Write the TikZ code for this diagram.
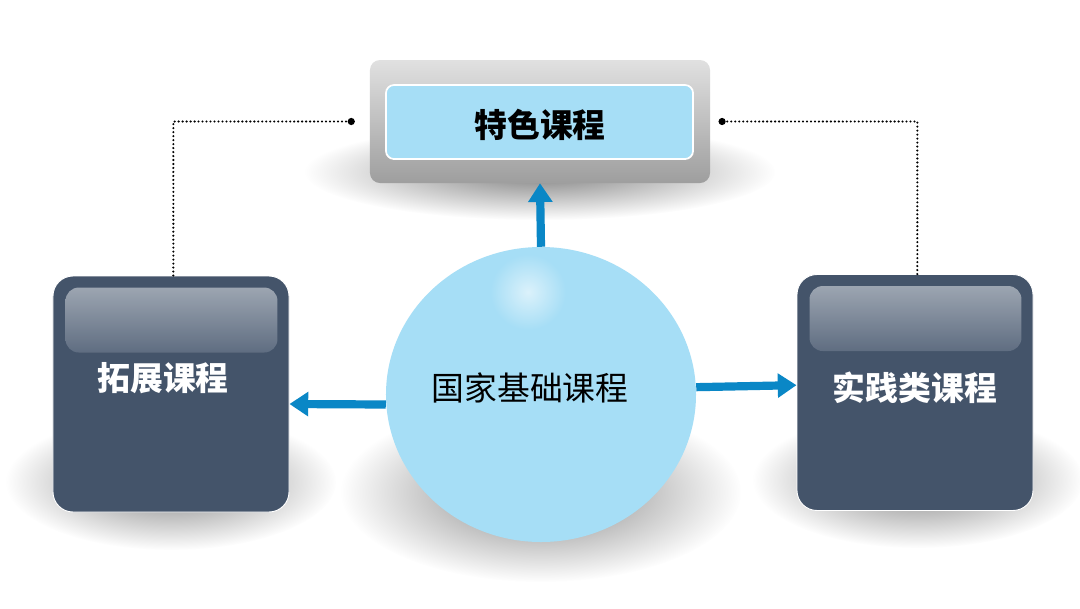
\documentclass[tikz,border=0pt]{standalone}
\usepackage{fontspec}
\newfontfamily\cjk{Noto Sans CJK SC}
\usetikzlibrary{arrows.meta,shapes.geometric,fadings}
\definecolor{slatebox}{HTML}{44546A}
\definecolor{glosstop}{HTML}{9CA5B1}
\definecolor{glossbottom}{HTML}{5F6D81}
\definecolor{skyfill}{HTML}{A6DEF6}
\definecolor{flowblue}{HTML}{0A87C6}
\tikzfading[name=softshadow, inner color=transparent!0, outer color=transparent!100]
\begin{document}
\begin{tikzpicture}[
  x=0.03cm,
  y=-0.03cm,
  darkbox/.style={
    fill=slatebox,
    draw=white,
    line width=0.8pt,
    rounded corners=0.6cm,
    minimum width=7.08cm,
    minimum height=7.08cm
  },
  graybox/.style={
    top color=black!12,
    bottom color=black!38,
    draw=none,
    rounded corners=0.3cm,
    minimum width=10.2cm,
    minimum height=3.69cm
  },
  skybox/.style={
    fill=skyfill,
    draw=white,
    line width=1.5pt,
    rounded corners=0.24cm,
    minimum width=9.21cm,
    minimum height=2.22cm
  },
  ball/.style={
    ellipse,
    fill=skyfill,
    draw=none,
    inner sep=0pt,
    minimum width=9.3cm,
    minimum height=8.85cm
  },
  boxtext/.style={
    font=\cjk\bfseries\fontsize{28}{30}\selectfont
  },
  flowarrow/.style={
    draw=flowblue,
    line width=7pt,
    -{Triangle[length=16pt,width=20pt]}
  },
  dotline/.style={
    line width=2pt,
    line cap=round,
    dash pattern=on 0pt off 3.4pt,
    -{Circle[length=6pt]}
  },
  shadowblob/.style={
    fill=black!50,
    path fading=softshadow
  }
]

\useasboundingbox[fill=white] (0,0) rectangle (1080,608);

\fill[shadowblob] (540,172) ellipse (235 and 48);
\fill[shadowblob] (171,482) ellipse (165 and 68);
\fill[shadowblob] (918,480) ellipse (165 and 68);
\fill[shadowblob] (541,492) ellipse (200 and 90);

\node[graybox] (special) at (540,121.5) {};
\node[skybox] (specialin) at (539.5,122) {};
\node[boxtext] (specialtext) at (540,125) {特色课程};

\node[darkbox] (expand) at (171,394) {};
\shade[top color=glosstop, bottom color=glossbottom, rounded corners=0.4cm]
  ([shift={(13,12)}]expand.north west) rectangle ([shift={(-12,77)}]expand.north east);
\node[boxtext, text=white] (expandtext) at (163,378) {拓展课程};

\node[darkbox] (practice) at (915,392.5) {};
\shade[top color=glosstop, bottom color=glossbottom, rounded corners=0.4cm]
  ([shift={(13,12)}]practice.north west) rectangle ([shift={(-12,77)}]practice.north east);
\node[boxtext, text=white] (practicetext) at (915,388) {实践类课程};

\node[ball] (base) at (541,394.5) {};
\fill[white, path fading=softshadow, fill opacity=0.6] (528,292) circle (38);
\node[font=\cjk\fontsize{28}{30}\selectfont] (basetext) at (530,388) {国家基础课程};

\draw[flowarrow] (base.north) -- (special.south);
\draw[flowarrow] ([yshift=-0.3cm]base.west) -- ([yshift=-0.3cm]expand.east);
\draw[flowarrow] ([yshift=0.22cm]base.east) -- ([yshift=0.22cm]practice.west);

\draw[dotline] ([xshift=2]expand.north) |- ([xshift=-0.45cm]special.west);
\draw[dotline] ([xshift=2]practice.north) |- ([xshift=0.25cm]special.east);

\end{tikzpicture}
\end{document}
